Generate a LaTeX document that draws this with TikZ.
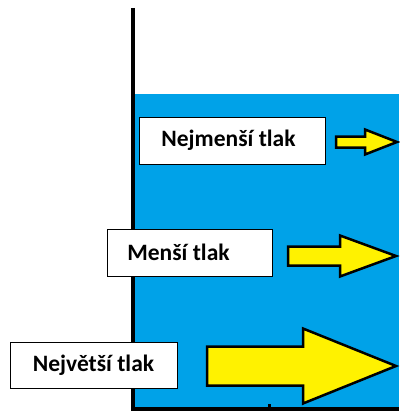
\documentclass[tikz,border=0pt]{standalone}
\usepackage{fontspec}
\setmainfont{Carlito}
\usetikzlibrary{calc}
\definecolor{voda}{RGB}{0,162,232}
\definecolor{zluta}{RGB}{255,242,0}
\tikzset{
    stitek/.style={draw=black, line width=1pt, fill=white, inner sep=0pt,
        font=\fontsize{23.5}{27}\selectfont\bfseries},
    sipka/.style={draw=black, line width=2.5pt, fill=zluta, line join=miter},
}

\begin{document}
\begin{tikzpicture}[x=1pt,y=-1pt]
    \useasboundingbox (0,0) rectangle (399,412);
    % voda a nadoba
    \fill[voda] (135,94) rectangle (399,408);
    \draw[line width=4pt] (133,8) -- (133,409) -- (399,409);
    \draw[line width=3pt] (269,404) -- (269,409);
    % stitky
    \node[stitek, minimum width=186, minimum height=47] (nejmensi) at (232,140.5) {\hspace*{-7pt}Nejmenší tlak};
    \node[stitek, minimum width=165, minimum height=47] (mensi) at (189.5,252.5) {\hspace*{-22pt}Menší tlak};
    \node[stitek, minimum width=167, minimum height=46] (nejvetsi) at (93.5,365) {Největší tlak};
    % sipky: zacatek/hlava/spicka/stred/telo/hlava
    \foreach \a/\h/\s/\y/\t/\r in {336/365/397/142/5.5/12.5, 288/340/396/256/9.5/20.5, 207/303/396/366/19.5/37.5} {
        \draw[sipka] (\a,\y-\t) -- (\h,\y-\t) -- (\h,\y-\r) -- (\s,\y)
            -- (\h,\y+\r) -- (\h,\y+\t) -- (\a,\y+\t) -- cycle;
    };
\end{tikzpicture}
\end{document}
